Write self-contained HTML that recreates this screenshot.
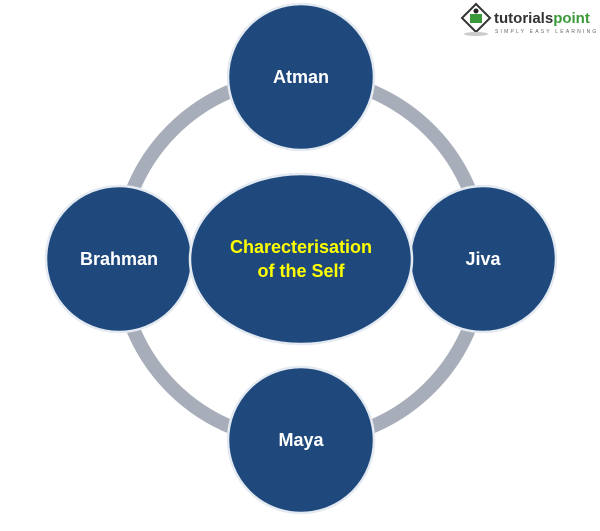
<!DOCTYPE html>
<html><head><style>
html,body{margin:0;padding:0;background:#fff;}
svg{display:block;}
text{font-family:"Liberation Sans",sans-serif;font-weight:bold;}
</style></head><body>
<svg width="600" height="531" viewBox="0 0 600 531">
<circle cx="301" cy="259" r="182" fill="none" stroke="#a8adba" stroke-width="14"/>
<g fill="#1f497d" stroke="#e4eaf1" stroke-width="2.5">
<circle cx="301" cy="77" r="73"/>
<circle cx="119" cy="259" r="73"/>
<circle cx="483" cy="259" r="73"/>
<circle cx="301" cy="440" r="73"/>
<ellipse cx="301" cy="259" rx="111" ry="85"/>
</g>
<g fill="#fff" font-size="18" text-anchor="middle">
<text x="301" y="83">Atman</text>
<text x="119" y="265">Brahman</text>
<text x="483" y="265">Jiva</text>
<text x="301" y="446">Maya</text>
</g>
<g fill="#ffff00" font-size="18" text-anchor="middle">
<text x="301" y="253">Charecterisation</text>
<text x="301" y="277">of the Self</text>
</g>
<g transform="translate(462,4)">
<polygon points="14,0 28,14 14,28 0,14" fill="#fff" stroke="#333" stroke-width="2"/>
<rect x="8" y="10" width="12" height="9" fill="#3a9a3a"/>
<circle cx="14" cy="7" r="2.5" fill="#222"/>
<ellipse cx="14" cy="30" rx="12" ry="2" fill="#ccc"/>
<text x="32" y="19" font-size="15" fill="#333" style="font-weight:bold">tutorials<tspan fill="#3a9a3a">point</tspan></text>
<text x="33" y="29" font-size="5" fill="#666" letter-spacing="2.2" style="font-weight:normal">SIMPLY EASY LEARNING</text>
</g>
</svg>
</body></html>
